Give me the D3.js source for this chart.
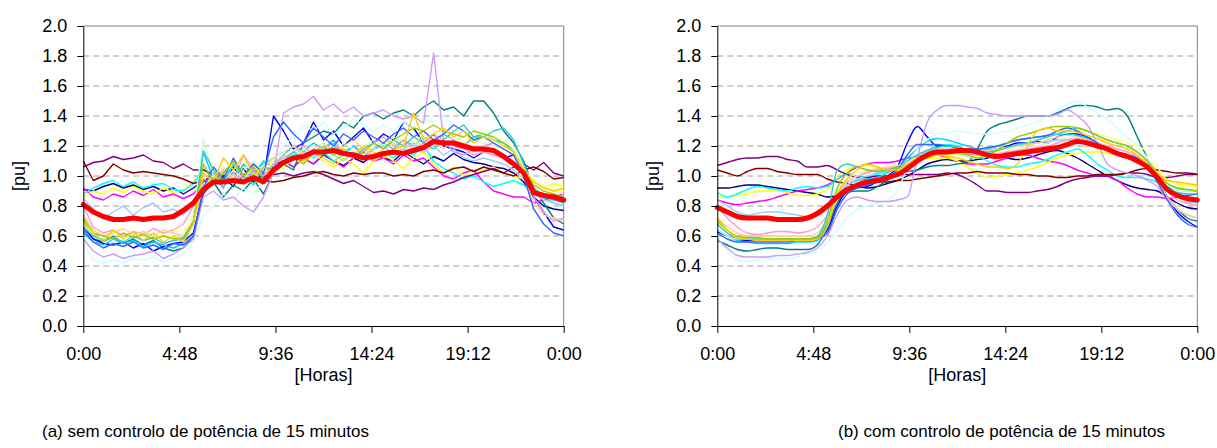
<!DOCTYPE html>
<html>
<head>
<meta charset="utf-8">
<script src="https://cdn.jsdelivr.net/npm/d3@7"></script>
<style>
    body { margin: 0; background: #fff; }
    svg text { font-family: Arial, "Liberation Sans", sans-serif; fill: #000; }
</style>
</head>
<body>
<svg id="chart" width="1217" height="448"></svg>
<script>
// half-hour steps, 0:00 .. 24:00
const hours = d3.range(0, 24.5, 0.5);
const xTickValues = [0, 4.8, 9.6, 14.4, 19.2, 24];
const xTickLabels = ["0:00", "4:48", "9:36", "14:24", "19:12", "0:00"];
const yTicks = [0, 0.2, 0.4, 0.6, 0.8, 1.0, 1.2, 1.4, 1.6, 1.8, 2.0];

// excel default series colours
const seriesColors = ["#000080", "#FF00FF", "#FFFF00", "#00FFFF", "#800080", "#800000",
    "#008080", "#0000FF", "#00CCFF", "#CCFFFF", "#CCFFCC", "#FFFF99", "#99CCFF",
    "#FF99CC", "#CC99FF", "#FFCC99", "#3366FF", "#33CCCC", "#99CC00", "#FFCC00"];

// (a) sem controlo
const aNavy = [0.91,0.90,0.93,0.95,0.92,0.94,0.91,0.93,0.90,0.92,
    0.88,0.92,0.97,0.94,0.99,0.93,1.05,0.96,1.02,1.08,
    1.10,1.06,1.12,1.08,1.14,1.10,1.07,1.12,1.09,1.14,
    1.12,1.10,1.16,1.12,1.08,1.13,1.10,1.15,1.11,1.09,
    1.08,1.06,1.05,1.02,0.96,0.86,0.80,0.78,0.77];
const aMagenta = [0.92,0.86,0.84,0.88,0.86,0.90,0.87,0.91,0.86,0.88,
    0.85,0.88,0.96,1.02,0.95,1.05,1.00,1.08,1.02,1.06,
    1.10,1.06,1.12,1.08,1.15,1.10,1.06,1.12,1.16,1.10,
    1.12,1.08,1.14,1.10,1.12,1.06,1.00,0.98,1.02,1.04,
    0.96,0.90,0.88,0.86,0.86,0.82,0.84,0.86,0.88];
const aYellow = [0.86,0.90,0.88,0.92,0.89,0.93,0.90,0.88,0.92,0.89,
    0.91,0.96,1.02,0.94,1.04,0.98,1.08,1.00,1.06,1.10,
    1.05,1.12,1.08,1.15,1.10,1.06,1.12,1.08,1.02,1.10,
    1.14,1.10,1.05,1.12,1.16,1.08,1.02,1.06,1.00,1.04,
    1.04,1.06,1.02,1.00,0.98,0.97,0.92,0.95,0.93];
const aCyan = [0.88,0.92,0.95,0.97,0.93,0.96,0.92,0.94,0.95,0.91,
    0.90,0.95,1.05,0.98,1.00,1.06,0.97,1.03,1.08,1.12,
    1.08,1.14,1.18,1.12,1.16,1.10,1.14,1.20,1.15,1.11,
    1.16,1.12,1.18,1.14,1.20,1.10,1.05,1.02,0.98,1.00,
    0.96,0.93,0.95,0.97,0.94,0.88,0.85,0.87,0.86];
const aPurple = [1.06,1.09,1.10,1.13,1.11,1.12,1.14,1.10,1.09,1.05,
    1.08,1.04,1.04,1.01,1.00,1.02,0.99,0.98,1.00,1.01,
    1.02,1.00,1.02,1.03,1.01,0.98,0.95,0.97,0.93,0.89,
    0.90,0.88,0.91,0.90,0.92,0.91,0.94,0.96,0.99,1.01,
    1.03,1.05,1.02,1.06,1.08,1.04,1.09,1.02,1.00];
const aMaroon = [1.10,0.97,1.00,1.08,1.04,1.02,1.03,1.02,1.01,1.00,
    0.98,0.95,0.97,0.99,1.00,0.96,0.99,0.98,0.97,0.96,
    0.97,0.99,1.00,1.02,1.03,1.01,1.00,1.02,1.01,1.02,
    1.02,1.00,1.01,1.00,1.03,1.04,1.02,1.05,1.06,1.03,
    1.06,1.04,1.02,1.00,1.04,1.06,1.03,0.98,0.99];
const aTeal = [0.70,0.58,0.56,0.60,0.55,0.58,0.54,0.57,0.52,0.50,
    0.52,0.60,0.88,0.96,0.86,0.94,0.90,0.98,0.88,1.02,
    1.08,1.04,1.22,1.26,1.30,1.28,1.36,1.32,1.40,1.42,
    1.38,1.42,1.44,1.40,1.46,1.50,1.44,1.46,1.40,1.50,
    1.50,1.42,1.30,1.22,1.10,0.92,0.82,0.72,0.68];
const aBlue = [0.66,0.58,0.55,0.54,0.56,0.52,0.55,0.50,0.53,0.55,
    0.56,0.62,0.90,1.00,0.92,1.06,0.95,1.04,0.98,1.40,
    1.30,1.18,1.22,1.36,1.24,1.30,1.20,1.26,1.32,1.22,
    1.28,1.24,1.36,1.32,1.22,1.28,1.20,1.18,1.16,1.12,
    1.16,1.18,1.12,1.14,1.04,0.86,0.76,0.66,0.64];
const aSkyBlue = [0.62,0.56,0.54,0.58,0.55,0.57,0.53,0.56,0.54,0.52,
    0.55,0.70,1.16,0.98,1.04,0.96,1.08,1.00,1.10,1.06,
    1.14,1.20,1.16,1.22,1.18,1.24,1.16,1.20,1.14,1.18,
    1.22,1.18,1.24,1.20,1.26,1.22,1.28,1.24,1.20,1.26,
    1.28,1.24,1.22,1.18,1.06,0.92,0.86,0.82,0.80];
const aLightTurquoise = [0.55,0.44,0.42,0.44,0.42,0.45,0.44,0.46,0.43,0.45,
    0.48,0.56,0.74,0.80,0.88,0.84,0.92,0.88,0.96,1.10,
    1.20,1.26,1.34,1.30,1.36,1.28,1.32,1.38,1.34,1.30,
    1.34,1.30,1.36,1.32,1.38,1.36,1.40,1.34,1.30,1.28,
    1.28,1.24,1.20,1.16,1.06,0.90,0.84,0.82,0.80];
const aLightGreen = [0.68,0.60,0.58,0.61,0.59,0.62,0.60,0.58,0.61,0.59,
    0.62,0.74,1.25,1.00,1.06,0.98,1.04,1.10,1.02,1.08,
    1.12,1.16,1.14,1.20,1.16,1.22,1.18,1.14,1.20,1.24,
    1.20,1.26,1.22,1.18,1.24,1.28,1.22,1.26,1.20,1.24,
    1.22,1.20,1.18,1.14,1.04,0.94,0.92,0.90,0.88];
const aLightYellow = [0.70,0.62,0.60,0.63,0.61,0.60,0.62,0.59,0.61,0.63,
    0.64,0.72,0.94,1.00,0.96,1.04,0.98,1.06,1.02,1.10,
    1.16,1.12,1.18,1.14,1.20,1.16,1.22,1.18,1.14,1.20,
    1.24,1.20,1.26,1.22,1.28,1.24,1.30,1.26,1.22,1.28,
    1.28,1.26,1.24,1.18,1.06,0.96,0.94,0.92,0.90];
const aPaleBlue = [0.85,0.78,0.72,0.76,0.80,0.74,0.79,0.82,0.76,0.78,
    0.74,0.82,0.94,0.98,0.92,1.02,0.96,1.04,1.00,1.08,
    1.14,1.10,1.16,1.12,1.18,1.14,1.10,1.16,1.12,1.18,
    1.20,1.14,1.18,1.22,1.16,1.20,1.14,1.18,1.12,1.10,
    1.12,1.10,1.08,1.04,0.98,0.88,0.84,0.82,0.80];
const aRose = [0.80,0.66,0.62,0.64,0.60,0.63,0.61,0.65,0.62,0.64,
    0.68,0.80,0.98,0.94,1.02,0.96,1.14,1.04,1.00,1.08,
    1.12,1.16,1.20,1.14,1.18,1.22,1.16,1.12,1.18,1.22,
    1.26,1.20,1.24,1.18,1.22,1.28,1.24,1.20,1.18,1.14,
    1.16,1.14,1.12,1.08,1.00,0.90,0.88,0.86,0.84];
const aLavender = [0.58,0.50,0.46,0.48,0.45,0.47,0.48,0.50,0.45,0.48,
    0.52,0.58,0.86,0.90,0.84,0.86,0.80,0.76,0.86,1.02,
    1.42,1.46,1.48,1.53,1.44,1.48,1.42,1.46,1.40,1.42,
    1.44,1.40,1.38,1.40,1.35,1.82,1.24,1.16,1.14,1.18,
    1.20,1.22,1.18,1.14,1.02,0.86,0.76,0.70,0.72];
const aTan = [0.74,0.64,0.60,0.62,0.65,0.61,0.63,0.60,0.64,0.62,
    0.60,0.70,0.92,0.98,1.04,0.96,1.02,0.98,1.06,1.12,
    1.16,1.20,1.14,1.18,1.22,1.16,1.20,1.24,1.18,1.14,
    1.18,1.22,1.16,1.20,1.26,1.22,1.18,1.24,1.20,1.16,
    1.20,1.18,1.14,1.10,1.00,0.82,0.74,0.72,0.70];
const aRoyalBlue = [0.64,0.56,0.52,0.55,0.53,0.56,0.52,0.54,0.51,0.55,
    0.54,0.60,0.92,1.06,0.98,1.12,1.00,1.08,1.02,1.26,
    1.36,1.28,1.22,1.32,1.26,1.20,1.28,1.24,1.30,1.26,
    1.22,1.28,1.32,1.26,1.30,1.24,1.28,1.34,1.30,1.24,
    1.26,1.22,1.18,1.14,1.00,0.78,0.68,0.62,0.60];
const aAqua = [0.66,0.60,0.57,0.59,0.56,0.60,0.57,0.59,0.55,0.57,
    0.58,0.68,1.17,1.04,0.96,1.08,1.00,0.94,1.06,1.04,
    1.10,1.16,1.12,1.18,1.14,1.20,1.16,1.12,1.18,1.22,
    1.18,1.24,1.20,1.26,1.22,1.18,1.24,1.30,1.34,1.26,
    1.26,1.30,1.32,1.24,1.08,0.92,0.86,0.84,0.82];
const aLime = [0.72,0.62,0.60,0.58,0.62,0.59,0.61,0.58,0.60,0.58,
    0.59,0.70,1.08,0.96,1.02,1.10,1.00,1.06,0.98,1.04,
    1.10,1.14,1.08,1.16,1.20,1.14,1.18,1.12,1.16,1.22,
    1.18,1.24,1.28,1.32,1.30,1.34,1.30,1.28,1.26,1.30,
    1.28,1.26,1.22,1.16,1.04,0.94,0.90,0.88,0.86];
const aGold = [0.70,0.62,0.56,0.64,0.58,0.63,0.57,0.62,0.56,0.60,
    0.56,0.68,1.02,0.96,1.12,1.04,1.14,1.00,1.06,1.02,
    1.08,1.14,1.10,1.16,1.12,1.08,1.18,1.14,1.20,1.16,
    1.12,1.18,1.20,1.42,1.24,1.28,1.32,1.26,1.30,1.22,
    1.26,1.24,1.20,1.16,1.04,0.96,0.92,0.90,0.92];
const aAverage = [0.81,0.76,0.73,0.71,0.71,0.72,0.71,0.72,0.72,0.73,
    0.77,0.82,0.91,0.96,0.96,0.97,0.96,0.99,0.96,1.04,
    1.09,1.12,1.13,1.16,1.16,1.17,1.15,1.14,1.12,1.13,
    1.15,1.16,1.15,1.17,1.19,1.23,1.22,1.22,1.20,1.18,
    1.18,1.17,1.13,1.08,1.02,0.89,0.87,0.86,0.84];

// (b) com controlo
const bNavy = [0.92,0.92,0.93,0.94,0.94,0.93,0.92,0.91,0.90,0.89,
    0.88,0.86,0.87,0.90,0.93,0.92,0.93,0.95,0.97,1.00,
    1.04,1.08,1.10,1.11,1.10,1.10,1.11,1.12,1.14,1.12,
    1.11,1.12,1.14,1.16,1.17,1.15,1.12,1.08,1.04,1.00,
    0.97,0.94,0.92,0.91,0.90,0.86,0.82,0.79,0.78];
const bMagenta = [0.84,0.82,0.81,0.82,0.83,0.84,0.86,0.88,0.90,0.91,
    0.92,0.94,0.98,1.02,1.06,1.08,1.09,1.09,1.10,1.12,
    1.13,1.14,1.14,1.12,1.10,1.08,1.08,1.08,1.10,1.12,
    1.14,1.14,1.12,1.10,1.09,1.07,1.04,1.02,1.00,1.00,
    0.97,0.92,0.88,0.86,0.86,0.85,0.86,0.87,0.88];
const bYellow = [0.86,0.86,0.87,0.88,0.90,0.90,0.90,0.89,0.87,0.87,
    0.88,0.91,1.00,1.04,1.07,1.07,1.06,1.04,1.03,1.06,
    1.10,1.12,1.12,1.12,1.10,1.06,1.02,0.99,1.00,1.01,
    1.02,1.04,1.06,1.09,1.12,1.14,1.15,1.16,1.16,1.15,
    1.14,1.13,1.12,1.10,1.04,0.98,0.95,0.94,0.93];
const bCyan = [0.89,0.86,0.88,0.91,0.93,0.92,0.91,0.90,0.92,0.93,
    0.92,0.93,0.98,1.02,1.00,0.99,1.01,1.03,1.05,1.10,
    1.14,1.17,1.20,1.21,1.20,1.17,1.14,1.10,1.07,1.06,
    1.06,1.08,1.09,1.11,1.14,1.16,1.18,1.14,1.08,1.04,
    1.00,0.99,0.99,0.98,0.96,0.93,0.91,0.90,0.90];
const bPurple = [1.07,1.09,1.11,1.12,1.12,1.13,1.13,1.11,1.10,1.06,
    1.06,1.07,1.04,1.01,0.99,0.99,1.00,1.00,1.01,1.01,
    1.01,1.01,1.01,1.02,1.01,0.98,0.94,0.90,0.90,0.89,
    0.89,0.89,0.90,0.91,0.93,0.96,0.98,0.99,1.00,1.00,
    1.01,1.02,1.02,1.01,0.99,0.99,1.00,1.01,1.01];
const bMaroon = [1.04,1.02,1.00,1.03,1.05,1.05,1.03,1.02,1.01,1.01,
    1.01,0.98,0.96,0.95,0.94,0.95,0.96,0.96,0.97,0.97,
    0.98,0.99,1.00,1.01,1.02,1.02,1.03,1.02,1.02,1.02,
    1.01,1.01,1.00,1.00,0.99,0.99,1.00,1.00,1.01,1.01,
    1.01,1.02,1.04,1.05,1.04,1.03,1.02,1.02,1.01];
const bTeal = [0.57,0.54,0.51,0.50,0.51,0.52,0.52,0.51,0.51,0.51,
    0.54,0.66,0.82,0.89,0.90,0.90,0.93,0.97,1.01,1.03,
    1.04,1.06,1.07,1.07,1.08,1.09,1.18,1.30,1.34,1.36,
    1.38,1.40,1.40,1.40,1.42,1.45,1.47,1.47,1.46,1.44,
    1.45,1.40,1.26,1.12,0.98,0.86,0.78,0.72,0.70];
const bBlue = [0.63,0.60,0.58,0.57,0.57,0.57,0.57,0.58,0.58,0.58,
    0.59,0.64,0.80,0.90,0.92,0.93,0.96,1.00,1.06,1.22,
    1.33,1.26,1.20,1.20,1.19,1.17,1.16,1.17,1.18,1.20,
    1.22,1.22,1.23,1.22,1.26,1.28,1.28,1.26,1.22,1.18,
    1.14,1.12,1.10,1.06,0.98,0.86,0.76,0.70,0.66];
const bSkyBlue = [0.64,0.60,0.57,0.56,0.55,0.55,0.55,0.55,0.56,0.56,
    0.57,0.68,0.86,0.94,0.97,0.98,0.99,1.02,1.06,1.12,
    1.18,1.23,1.25,1.24,1.22,1.20,1.18,1.18,1.20,1.22,
    1.24,1.25,1.26,1.27,1.28,1.28,1.27,1.25,1.22,1.18,
    1.16,1.14,1.12,1.08,1.00,0.93,0.89,0.88,0.88];
const bLightTurquoise = [0.60,0.50,0.44,0.43,0.44,0.45,0.45,0.45,0.46,0.48,
    0.50,0.56,0.64,0.72,0.78,0.80,0.82,0.84,0.90,1.06,
    1.18,1.24,1.28,1.29,1.30,1.29,1.28,1.28,1.29,1.30,
    1.32,1.34,1.36,1.40,1.44,1.48,1.50,1.46,1.42,1.38,
    1.32,1.26,1.20,1.12,1.02,0.92,0.87,0.85,0.84];
const bLightGreen = [0.64,0.60,0.58,0.58,0.58,0.58,0.58,0.58,0.58,0.58,
    0.60,0.70,0.90,0.98,1.02,1.03,1.04,1.04,1.05,1.08,
    1.12,1.14,1.15,1.15,1.14,1.13,1.12,1.13,1.14,1.16,
    1.18,1.19,1.20,1.22,1.24,1.25,1.25,1.24,1.22,1.20,
    1.18,1.16,1.14,1.10,1.02,0.94,0.91,0.90,0.90];
const bLightYellow = [0.68,0.63,0.60,0.59,0.59,0.59,0.60,0.60,0.60,0.60,
    0.62,0.70,0.88,0.96,1.00,1.02,1.04,1.05,1.06,1.08,
    1.11,1.13,1.14,1.14,1.14,1.14,1.13,1.14,1.16,1.18,
    1.20,1.22,1.24,1.26,1.28,1.29,1.30,1.30,1.28,1.26,
    1.24,1.22,1.20,1.16,1.06,0.97,0.94,0.93,0.92];
const bPaleBlue = [0.84,0.80,0.76,0.74,0.75,0.76,0.76,0.75,0.74,0.73,
    0.74,0.78,0.86,0.94,0.98,1.00,1.02,1.04,1.06,1.10,
    1.14,1.16,1.18,1.18,1.17,1.16,1.16,1.17,1.18,1.19,
    1.20,1.21,1.22,1.23,1.24,1.24,1.23,1.22,1.20,1.17,
    1.14,1.12,1.10,1.05,0.98,0.90,0.86,0.83,0.82];
const bRose = [0.80,0.72,0.66,0.62,0.61,0.62,0.63,0.63,0.62,0.63,
    0.66,0.74,0.88,0.96,1.00,1.02,1.04,1.05,1.06,1.08,
    1.12,1.15,1.17,1.18,1.17,1.15,1.14,1.14,1.15,1.16,
    1.17,1.18,1.19,1.20,1.22,1.24,1.25,1.24,1.22,1.20,
    1.18,1.16,1.13,1.08,1.00,0.90,0.84,0.82,0.80];
const bLavender = [0.58,0.52,0.47,0.46,0.46,0.46,0.47,0.47,0.48,0.49,
    0.52,0.60,0.74,0.84,0.86,0.84,0.83,0.83,0.84,0.86,
    1.12,1.36,1.44,1.47,1.47,1.46,1.45,1.42,1.41,1.40,
    1.40,1.40,1.40,1.40,1.41,1.44,1.40,1.34,1.22,1.08,
    1.04,1.02,1.00,0.97,0.93,0.84,0.78,0.74,0.72];
const bTan = [0.72,0.66,0.62,0.60,0.60,0.60,0.60,0.60,0.60,0.60,
    0.62,0.72,0.88,0.96,1.00,1.03,1.05,1.06,1.07,1.10,
    1.14,1.17,1.18,1.18,1.17,1.16,1.16,1.17,1.18,1.19,
    1.20,1.21,1.22,1.24,1.26,1.27,1.26,1.24,1.20,1.16,
    1.14,1.12,1.10,1.06,0.98,0.86,0.78,0.74,0.72];
const bRoyalBlue = [0.62,0.58,0.56,0.56,0.56,0.56,0.56,0.56,0.57,0.57,
    0.58,0.62,0.78,0.88,0.92,0.94,0.96,0.99,1.04,1.14,
    1.21,1.21,1.21,1.20,1.19,1.18,1.18,1.19,1.20,1.22,
    1.24,1.25,1.26,1.27,1.30,1.32,1.30,1.26,1.22,1.18,
    1.16,1.14,1.12,1.06,0.96,0.84,0.74,0.68,0.66];
const bAqua = [0.68,0.62,0.59,0.58,0.58,0.58,0.58,0.58,0.58,0.58,
    0.60,0.74,1.04,1.08,1.06,1.04,1.03,1.04,1.06,1.10,
    1.14,1.17,1.19,1.20,1.19,1.17,1.16,1.16,1.17,1.19,
    1.21,1.22,1.24,1.26,1.28,1.30,1.32,1.30,1.27,1.24,
    1.22,1.20,1.16,1.10,1.02,0.95,0.92,0.91,0.90];
const bLime = [0.70,0.64,0.60,0.59,0.59,0.58,0.58,0.58,0.58,0.58,
    0.59,0.70,0.92,1.02,1.06,1.04,1.03,1.04,1.05,1.07,
    1.10,1.12,1.14,1.15,1.15,1.14,1.12,1.14,1.17,1.22,
    1.26,1.28,1.30,1.32,1.33,1.33,1.32,1.30,1.27,1.24,
    1.22,1.20,1.16,1.10,1.02,0.95,0.92,0.91,0.90];
const bGold = [0.72,0.64,0.59,0.58,0.57,0.57,0.57,0.57,0.57,0.57,
    0.58,0.66,0.88,0.98,1.04,1.08,1.06,1.04,1.04,1.08,
    1.12,1.14,1.14,1.13,1.12,1.10,1.08,1.06,1.06,1.05,
    1.08,1.20,1.30,1.32,1.30,1.30,1.29,1.27,1.25,1.22,
    1.20,1.18,1.14,1.08,1.02,0.97,0.96,0.95,0.94];
const bAverage = [0.79,0.76,0.73,0.72,0.72,0.72,0.71,0.71,0.71,0.72,
    0.75,0.80,0.86,0.91,0.94,0.96,0.97,0.99,1.01,1.05,
    1.10,1.14,1.16,1.16,1.17,1.17,1.16,1.14,1.13,1.14,
    1.15,1.16,1.17,1.18,1.19,1.21,1.23,1.22,1.20,1.18,
    1.15,1.13,1.10,1.06,0.99,0.91,0.87,0.85,0.84];

const seriesA = [aNavy, aMagenta, aYellow, aCyan, aPurple, aMaroon, aTeal, aBlue,
    aSkyBlue, aLightTurquoise, aLightGreen, aLightYellow, aPaleBlue, aRose,
    aLavender, aTan, aRoyalBlue, aAqua, aLime, aGold];
const seriesB = [bNavy, bMagenta, bYellow, bCyan, bPurple, bMaroon, bTeal, bBlue,
    bSkyBlue, bLightTurquoise, bLightGreen, bLightYellow, bPaleBlue, bRose,
    bLavender, bTan, bRoyalBlue, bAqua, bLime, bGold];

const c_top = 26, c_bottom = 326;
const FONT = 18;

function drawPanel(svgBase, left, right, seriesList, avg, curve, yLabelX, caption, captionX) {

    var x = d3.scaleLinear().domain([0, 24]).range([left, right]);
    var y = d3.scaleLinear().domain([0, 2]).range([c_bottom, c_top]);

    //dashed gridlines
    svgBase.append("g")
        .selectAll("line")
        .data(yTicks.filter(d => d > 0 && d < 2))
        .enter()
        .append("line")
        .attr("x1", left)
        .attr("x2", right)
        .attr("y1", d => y(d))
        .attr("y2", d => y(d))
        .attr("stroke", "#a0a0a0")
        .attr("stroke-width", 1)
        .attr("stroke-dasharray", "6,4");

    //plot frame top and right
    svgBase.append("path")
        .attr("d", `M${left},${c_top}H${right}V${c_bottom}`)
        .attr("fill", "none")
        .attr("stroke", "#808080")
        .attr("stroke-width", 1);

    var line = d3.line()
        .x((d, i) => x(hours[i]))
        .y(d => y(d))
        .curve(curve);

    svgBase.append("g")
        .selectAll("path")
        .data(seriesList)
        .enter()
        .append("path")
        .attr("d", line)
        .attr("fill", "none")
        .attr("stroke", (d, i) => seriesColors[i])
        .attr("stroke-width", 1.4)
        .attr("stroke-linejoin", "round");

    //average
    svgBase.append("path")
        .datum(avg)
        .attr("d", line)
        .attr("fill", "none")
        .attr("stroke", "#FF0000")
        .attr("stroke-width", 5)
        .attr("stroke-linejoin", "round")
        .attr("stroke-linecap", "round");

    var yAxis = d3.axisLeft(y)
        .tickValues(yTicks)
        .tickFormat(d3.format(".1f"))
        .tickSize(6)
        .tickSizeOuter(0)
        .tickPadding(10);
    var gy = svgBase.append("g")
        .attr("transform", `translate(${left},0)`)
        .call(yAxis);

    var xAxis = d3.axisBottom(x)
        .tickValues(xTickValues)
        .tickFormat((d, i) => xTickLabels[i])
        .tickSize(7)
        .tickSizeOuter(0)
        .tickPadding(14);
    var gx = svgBase.append("g")
        .attr("transform", `translate(0,${c_bottom})`)
        .call(xAxis);

    [gy, gx].forEach(g => {
        g.attr("font-family", null).attr("font-size", FONT);
        g.selectAll("line").attr("stroke", "#000");
        g.select(".domain").attr("stroke", "#000");
    });

    svgBase.append("text")
        .attr("x", (left + right) / 2)
        .attr("y", 381)
        .attr("text-anchor", "middle")
        .attr("font-size", FONT)
        .text("[Horas]");

    svgBase.append("text")
        .attr("transform", `translate(${yLabelX},${(c_top + c_bottom) / 2}) rotate(-90)`)
        .attr("text-anchor", "middle")
        .attr("font-size", FONT)
        .text("[pu]");

    svgBase.append("text")
        .attr("x", captionX)
        .attr("y", 437)
        .attr("font-size", 17)
        .text(caption);
}

var svgBase = d3.select("#chart");
drawPanel(svgBase, 83.3, 563.7, seriesA, aAverage, d3.curveLinear, 24.5,
    "(a) sem controlo de potência de 15 minutos", 42);
drawPanel(svgBase, 717.3, 1197.3, seriesB, bAverage, d3.curveMonotoneX, 658.5,
    "(b) com controlo de potência de 15 minutos", 838);
</script>
</body>
</html>
